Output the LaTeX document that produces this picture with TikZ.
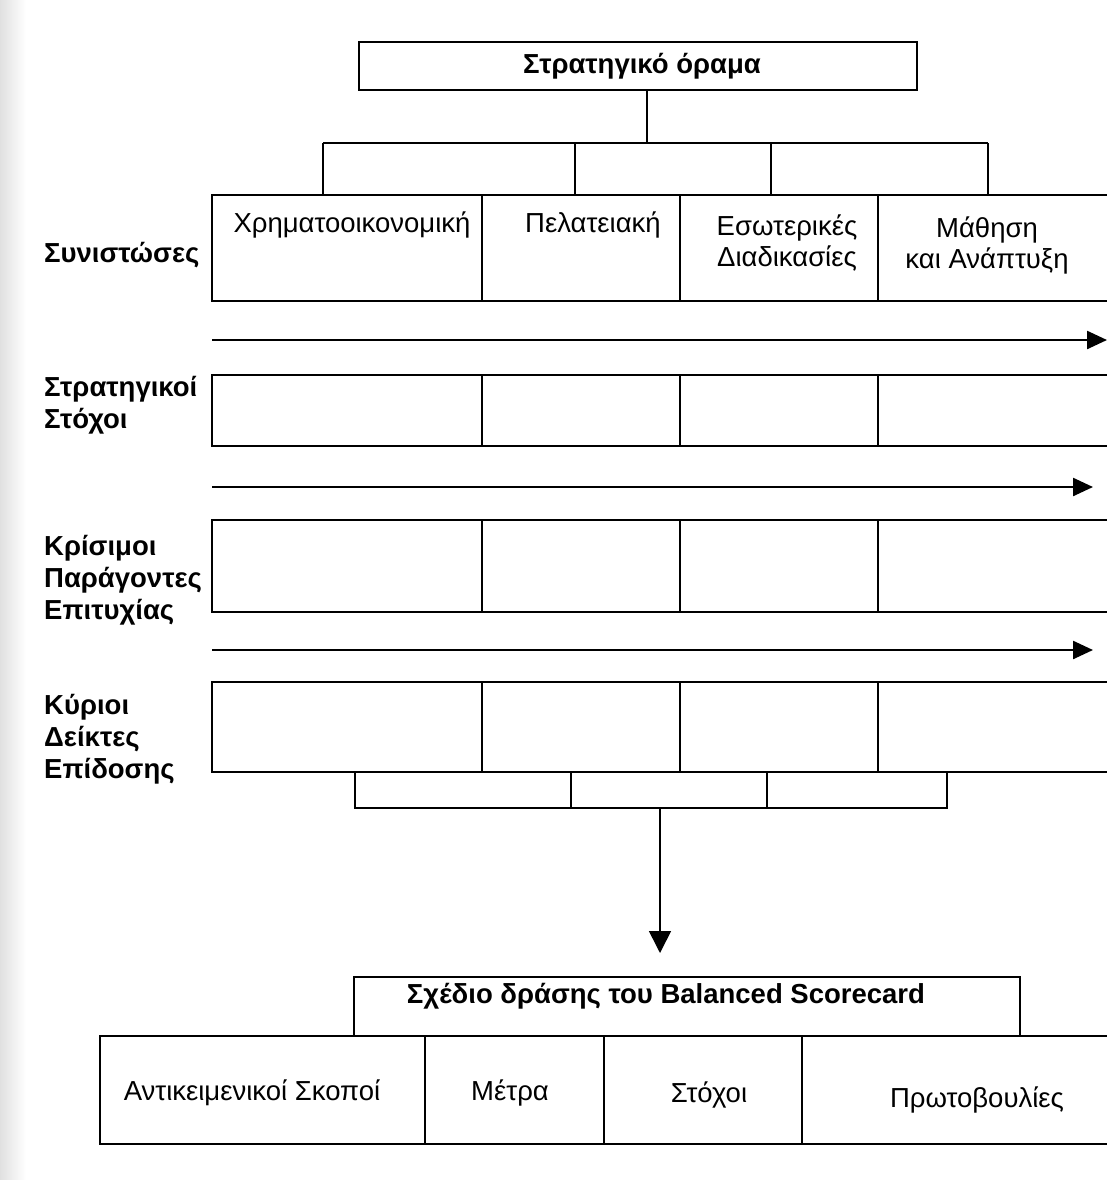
\documentclass[tikz,border=0pt]{standalone}
\usepackage{fontspec}
\setmainfont{Liberation Sans}
\usetikzlibrary{arrows.meta}

\begin{document}
\begin{tikzpicture}[x=1pt,y=-1pt,
  frame/.style={line width=2.4pt, line join=miter, line cap=rect},
  divider/.style={line width=1.5pt},
  cell/.style={font=\fontsize{27.5}{31}\selectfont, align=center, inner sep=0pt},
  headbox/.style={draw, line width=2.4pt, inner sep=0pt},
  headtext/.style={font=\bfseries\fontsize{27.5}{31}\selectfont, inner sep=0pt},
  rowlabel/.style={font=\bfseries\fontsize{27.5}{32}\selectfont, align=left, anchor=west, inner sep=0pt},
  flow/.style={line width=2.4pt, -{Triangle[length=20pt,width=18pt]}},
  link/.style={line width=1.6pt},
]
% page
\useasboundingbox (0,0) rectangle (1107,1180);
\fill[white] (0,0) rectangle (1107,1180);
\shade[left color=black!12, right color=white] (0,0) rectangle (26,1180);

% ---- strategic vision and its four branches
\node[headbox, minimum width=558pt, minimum height=48pt] (vision) at (638,66) {};
\node[headtext] (visiontext) at (642,66) {Στρατηγικό όραμα};
\coordinate (hub) at (647,143);
\coordinate (d1) at (323,143);
\coordinate (d2) at (575,143);
\coordinate (d3) at (771,143);
\coordinate (d4) at (988,143);
\draw[link] (vision.south -| hub) -- (hub);
\draw[link] (d1) -- (d4);

% ---- the four rows of the grid (open at the right)
\foreach \t/\b [count=\r] in {195/301, 375/446, 520/612, 682/772}{
  \draw[frame] (1107,\t) -- (212,\t) -- (212,\b) -- (1107,\b);
  \foreach \x in {482,680,878}
    \draw[divider] (\x,\t) -- (\x,\b);
  \coordinate (row\r top) at (212,\t);
  \coordinate (row\r bot) at (212,\b);
}
\foreach \d in {d1,d2,d3,d4}
  \draw[link] (\d) -- (\d |- row1top);

% perspective headings
\node[cell] (fin)  at (352,225) {Χρηματοοικονομική};
\node[cell] (cust) at (593,225) {Πελατειακή};
\node[cell] (proc) at (787,243) {Εσωτερικές\\Διαδικασίες};
\node[cell] (learn) at (987,245) {Μάθηση\\και Ανάπτυξη};

% row labels
\node[rowlabel] (lab1) at (44,255) {Συνιστώσες};
\node[rowlabel] (lab2) at (44,405) {Στρατηγικοί\\Στόχοι};
\node[rowlabel] (lab3) at (44,580) {Κρίσιμοι\\Παράγοντες\\Επιτυχίας};
\node[rowlabel] (lab4) at (44,739) {Κύριοι\\Δείκτες\\Επίδοσης};

% flow arrows between rows
\coordinate (a1s) at (212,340);  \coordinate (a1e) at (1107,340);
\coordinate (a2s) at (212,487);  \coordinate (a2e) at (1093,487);
\coordinate (a3s) at (212,650);  \coordinate (a3e) at (1093,650);
\draw[flow] (a1s) -- (a1e);
\draw[flow] (a2s) -- (a2e);
\draw[flow] (a3s) -- (a3e);

% ---- collecting bracket below the grid
\coordinate (b1) at (355,808);
\coordinate (b2) at (571,808);
\coordinate (b3) at (767,808);
\coordinate (b4) at (947,808);
\coordinate (bhub) at (660,808);
\foreach \c in {b1,b2,b3,b4}
  \draw[link] (\c |- row4bot) -- (\c);
\draw[frame] (b1) -- (b4);

% ---- action plan
\node[headbox, minimum width=666pt, minimum height=59pt] (plan) at (687,1006.5) {};
\node[headtext] (plantext) at (666,996) {Σχέδιο δράσης του Balanced Scorecard};
\coordinate (ptip) at (660,953);
\draw[link, -{Triangle[length=22pt,width=22pt]}] (bhub) -- (ptip);

\draw[frame] (1107,1036) -- (100,1036) -- (100,1144) -- (1107,1144);
\foreach \x in {425,604,802}
  \draw[divider] (\x,1036) -- (\x,1144);
\node[cell] (obj)  at (252,1093) {Αντικειμενικοί Σκοποί};
\node[cell] (meas) at (510,1093) {Μέτρα};
\node[cell] (targ) at (709,1095) {Στόχοι};
\node[cell] (init) at (977,1100) {Πρωτοβουλίες};
\end{tikzpicture}
\end{document}
